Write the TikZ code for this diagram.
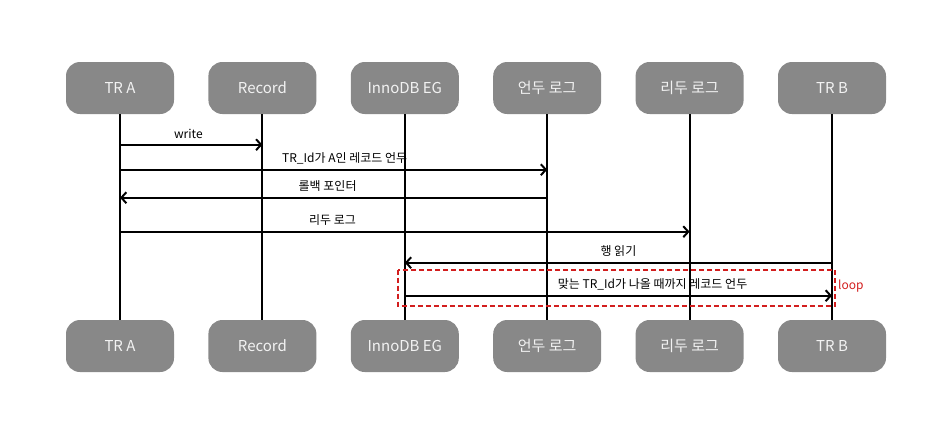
\documentclass[tikz,border=0pt]{standalone}
\usepackage{fontspec}
\setmainfont{Noto Sans CJK KR}
\usepackage{tikz}
\usetikzlibrary{arrows.meta,positioning}
\definecolor{boxgray}{RGB}{136,136,136}
\definecolor{boxtext}{RGB}{242,242,242}
\definecolor{ink}{RGB}{0,0,0}
\definecolor{loopred}{RGB}{210,30,30}
\tikzset{
  actor/.style={fill=boxgray,draw=none,rounded corners=14pt,minimum width=108pt,minimum height=52pt,
    inner sep=0pt,text=boxtext,font=\fontsize{15}{18}\selectfont},
  life/.style={line width=2pt,ink},
  msg/.style={-{Straight Barb[length=5pt,width=11pt,line width=2pt]},line width=2pt,ink},
  lbl/.style={font=\fontsize{12}{14}\selectfont,inner sep=0pt,above=5pt},
  loopbox/.style={draw=loopred,dash pattern=on 5pt off 3pt,line width=2pt},
}

\begin{document}
\begin{tikzpicture}[x=1pt,y=-1pt,node distance=34pt]
  \useasboundingbox (0,0) rectangle (950,432);
  % top row
  \node[actor] (trA) at (120,88) {TR A};
  \node[actor,right=of trA] (rec) {Record};
  \node[actor,right=of rec] (inno) {InnoDB EG};
  \node[actor,right=of inno] (undo) {언두 로그};
  \node[actor,right=of undo] (redo) {리두 로그};
  \node[actor,right=of redo] (trB) {TR B};
  % bottom row
  \node[actor] (trA2) at (120,346) {TR A};
  \node[actor,right=of trA2] (rec2) {Record};
  \node[actor,right=of rec2] (inno2) {InnoDB EG};
  \node[actor,right=of inno2] (undo2) {언두 로그};
  \node[actor,right=of undo2] (redo2) {리두 로그};
  \node[actor,right=of redo2] (trB2) {TR B};
  % lifelines
  \foreach \a/\b in {trA/trA2,rec/rec2,inno/inno2,undo/undo2,redo/redo2,trB/trB2}
    \draw[life] (\a.south) -- (\b.north);
  % messages
  \draw[msg] ([yshift=-30.5pt]trA.south) -- node[lbl,pos=0.48]{write} ([yshift=-30.5pt]rec.south);
  \draw[msg] ([yshift=-55.5pt]trA.south) -- node[lbl,pos=0.526]{TR\_Id가 A인 레코드 언두} ([yshift=-55.5pt]undo.south);
  \draw[msg] ([yshift=-83.5pt]undo.south) -- node[lbl,pos=0.514]{롤백 포인터} ([yshift=-83.5pt]trA.south);
  \draw[msg] ([yshift=-117.5pt]trA.south) -- node[lbl,pos=0.373]{리두 로그} ([yshift=-117.5pt]redo.south);
  \draw[msg] ([yshift=-148.5pt]trB.south) -- node[lbl]{행 읽기} ([yshift=-148.5pt]inno.south);
  % loop
  \coordinate (lpA) at ([xshift=-7pt,yshift=-155.5pt]inno.south);
  \coordinate (lpB) at ([xshift=3pt,yshift=-191.5pt]trB.south);
  \draw[loopbox] (lpA) rectangle (lpB);
  \draw[msg] ([yshift=-181.5pt]inno.south) -- node[lbl,pos=0.58]{맞는 TR\_Id가 나올 때까지 레코드 언두} ([yshift=-181.5pt]trB.south);
  \node[anchor=west,text=loopred,font=\fontsize{12}{14}\selectfont,inner sep=0pt] (lp) at (838,286) {loop};
\end{tikzpicture}
\end{document}
